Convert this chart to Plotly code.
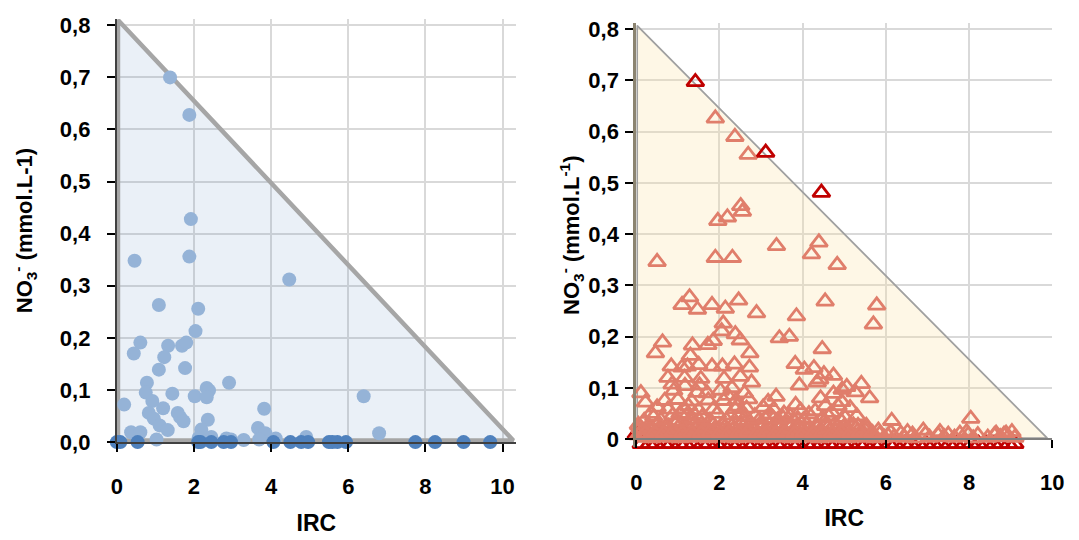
import plotly.graph_objects as go

# ---------------- data ----------------
# Left panel (circles)
left_x = [1.38, 1.88, 1.92, 1.88, 0.46, 4.47, 1.09, 2.11, 2.04, 0.61, 0.44, 1.33, 1.69, 1.80,
          1.23, 1.09, 1.77, 0.78, 2.91, 2.33, 2.39, 0.75, 1.44, 2.02, 2.33, 6.40, 0.92, 0.19,
          1.20, 3.82, 0.83, 1.58, 1.64, 1.73, 0.96, 2.36, 1.11, 1.32, 0.37, 0.61, 3.66, 2.19,
          3.85, 6.80, 4.91, 2.45, 4.12, 2.84, 2.96, 3.29, 3.69, 1.03, 2.12]
left_y = [0.700, 0.628, 0.428, 0.356, 0.348, 0.312, 0.263, 0.256, 0.213, 0.191, 0.170, 0.185, 0.185, 0.191,
          0.163, 0.139, 0.142, 0.114, 0.114, 0.104, 0.099, 0.095, 0.093, 0.088, 0.086, 0.088, 0.079, 0.072,
          0.065, 0.064, 0.056, 0.056, 0.048, 0.040, 0.045, 0.043, 0.032, 0.023, 0.019, 0.019, 0.027, 0.024,
          0.017, 0.017, 0.010, 0.010, 0.007, 0.007, 0.005, 0.004, 0.005, 0.005, 0.008]
left_zero_x = [0.0, 0.09, 0.54, 2.11, 2.17, 2.45, 2.77, 2.96, 4.06, 4.50, 4.78, 4.96, 5.50, 5.59,
               5.72, 5.94, 7.74, 8.25, 8.99, 9.68]
left_zero_y = [0.0] * len(left_zero_x)

# Right panel (triangles) - upper points
r_up_x = [1.90, 2.37, 2.69, 2.51, 2.55, 1.96, 2.19, 3.37, 4.39, 4.21, 0.50, 1.90, 2.31, 4.83,
          1.28, 1.10, 1.47, 1.82, 2.14, 2.46, 2.89, 4.54, 5.78, 3.85, 5.70, 2.09, 2.05, 2.38,
          2.50, 3.44, 3.68, 0.63, 0.46, 1.35, 1.72, 1.85, 2.73, 4.47, 1.30,
          0.84, 1.10, 1.23, 1.50, 1.82, 2.07, 2.36, 2.72, 3.82, 4.04, 4.27, 4.51, 4.74, 4.41,
          0.76, 1.16, 1.55, 2.11, 2.50, 2.77, 0.86, 1.17, 1.52, 3.92, 4.35, 5.06, 5.41, 4.95]
r_up_y = [0.626, 0.590, 0.555, 0.455, 0.444, 0.426, 0.433, 0.377, 0.384, 0.361, 0.346, 0.354, 0.354, 0.340,
          0.277, 0.262, 0.253, 0.262, 0.255, 0.271, 0.246, 0.269, 0.261, 0.240, 0.224, 0.226, 0.211, 0.205,
          0.193, 0.197, 0.200, 0.189, 0.168, 0.183, 0.184, 0.192, 0.168, 0.176, 0.163,
          0.142, 0.140, 0.142, 0.145, 0.142, 0.142, 0.146, 0.140, 0.147, 0.136, 0.139, 0.127, 0.124, 0.117,
          0.120, 0.120, 0.118, 0.118, 0.122, 0.111, 0.107, 0.104, 0.105, 0.105, 0.111, 0.102, 0.108, 0.097]

# Right panel - middle points
r_mid_x = [0.11, 0.22, 5.26, 5.61, 3.36, 3.17, 3.83, 4.43, 4.74, 4.94, 5.14, 1.46, 0.68, 1.00,
           1.33, 1.73, 2.10, 2.40, 2.70, 0.76, 1.16, 1.50, 1.85, 2.37, 2.65, 3.05, 3.30, 0.19,
           0.59, 0.98, 1.37, 1.77, 2.17, 2.56, 2.96, 3.30, 3.21, 3.52, 4.15, 4.62, 5.02, 6.14,
           8.04, 0.35, 0.50, 0.90, 1.05, 1.25, 1.40, 1.70, 1.95, 2.02, 2.20, 2.30, 2.50, 2.60,
           2.85, 3.10, 3.55, 3.70, 3.95, 4.30, 4.55, 4.70, 4.85, 5.30,
           0.42, 0.88, 1.21, 1.58, 2.26, 2.44, 2.63, 3.41, 3.88, 4.02, 4.48, 4.92]
r_mid_y = [0.090, 0.072, 0.092, 0.080, 0.083, 0.073, 0.067, 0.080, 0.089, 0.073, 0.061, 0.091, 0.075, 0.077,
           0.074, 0.076, 0.075, 0.076, 0.078, 0.058, 0.059, 0.057, 0.058, 0.059, 0.060, 0.062, 0.058, 0.036,
           0.037, 0.035, 0.038, 0.036, 0.037, 0.036, 0.038, 0.040, 0.049, 0.042, 0.049, 0.045, 0.042, 0.036,
           0.040, 0.050, 0.062, 0.095, 0.050, 0.065, 0.048, 0.090, 0.050, 0.095, 0.085, 0.100, 0.050, 0.090,
           0.045, 0.040, 0.050, 0.045, 0.056, 0.055, 0.065, 0.052, 0.065, 0.045,
           0.044, 0.047, 0.046, 0.043, 0.047, 0.064, 0.044, 0.038, 0.040, 0.037, 0.041, 0.036]

# Right panel - dense low band
r_low_x = [0.05, 0.28, 0.50, 0.72, 0.95, 1.18, 1.40, 1.62, 1.85, 2.08, 2.30, 2.52, 2.75, 2.98,
           3.20, 3.42, 3.65, 3.88, 4.10, 4.32, 4.55, 4.78, 5.00, 5.22, 5.33, 5.53,
           0.15, 0.38, 0.60, 0.82, 1.05, 1.28, 1.50, 1.72, 1.95, 2.18, 2.40, 2.62, 2.85, 3.08,
           3.30, 3.52, 3.75, 3.98, 4.20, 4.42, 4.65, 4.88, 5.10, 5.32, 5.55, 5.82, 6.12,
           0.05, 0.27, 0.49, 0.71, 0.93, 1.16, 1.38, 1.60, 1.83, 2.05, 2.27, 2.50, 2.72, 2.94,
           3.17, 3.39, 3.61, 3.84, 4.06, 4.28, 4.51, 4.73, 4.95, 5.18, 5.40, 5.62, 5.85, 6.05,
           6.36, 6.52, 6.64, 6.90, 6.95, 7.26, 7.30, 7.50, 7.78, 7.94, 7.98, 8.21, 8.61, 8.65,
           8.84, 8.89, 9.03,
           0.16, 0.38, 0.60, 0.82, 1.05, 1.27, 1.49, 1.72, 1.94, 2.16, 2.38, 2.61, 2.83, 3.05,
           3.28, 3.50, 3.72, 3.95, 4.17, 4.39, 4.62, 4.84, 5.06, 5.29, 5.51, 5.73, 5.96, 6.20,
           6.45, 6.70, 7.05, 7.40, 7.65, 8.10, 8.45, 8.75, 9.10,
           0.09, 0.33, 0.55, 0.77, 1.00, 1.22, 1.45, 1.67, 1.90, 2.12, 2.35, 2.57, 2.80, 3.02,
           3.25, 3.47, 3.70, 3.92, 4.15, 4.37, 4.60, 4.83, 5.05, 5.27, 5.47,
           0.21, 0.44, 0.66, 0.88, 1.11, 1.33, 1.56, 1.78, 2.01, 2.23, 2.46, 2.68, 2.91, 3.13,
           3.36, 3.58, 3.81, 4.03, 4.26, 4.48, 4.71, 4.93, 5.15, 5.38, 5.68]
r_low_y = [0.028, 0.025, 0.029, 0.026, 0.030, 0.027, 0.029, 0.025, 0.028, 0.030, 0.026, 0.029, 0.027, 0.030,
           0.028, 0.025, 0.030, 0.027, 0.029, 0.026, 0.028, 0.030, 0.025, 0.027, 0.026, 0.026,
           0.018, 0.016, 0.019, 0.017, 0.015, 0.018, 0.017, 0.019, 0.016, 0.018, 0.015, 0.017, 0.019, 0.016,
           0.018, 0.017, 0.015, 0.019, 0.016, 0.018, 0.017, 0.015, 0.018, 0.016, 0.020, 0.017, 0.013,
           0.008, 0.010, 0.007, 0.009, 0.011, 0.008, 0.010, 0.007, 0.009, 0.011, 0.008, 0.010, 0.007, 0.009,
           0.011, 0.008, 0.010, 0.007, 0.009, 0.011, 0.008, 0.010, 0.007, 0.009, 0.011, 0.008, 0.010, 0.007,
           0.011, 0.014, 0.009, 0.017, 0.010, 0.008, 0.014, 0.009, 0.011, 0.014, 0.009, 0.008, 0.008, 0.011,
           0.009, 0.011, 0.014,
           0.003, 0.002, 0.004, 0.003, 0.002, 0.003, 0.004, 0.002, 0.003, 0.004, 0.002, 0.003, 0.004, 0.002,
           0.003, 0.004, 0.002, 0.003, 0.004, 0.002, 0.003, 0.004, 0.002, 0.003, 0.004, 0.002, 0.003, 0.004,
           0.003, 0.002, 0.003, 0.004, 0.003, 0.002, 0.003, 0.004, 0.003,
           0.022, 0.023, 0.021, 0.024, 0.022, 0.023, 0.021, 0.024, 0.022, 0.023, 0.021, 0.024, 0.022, 0.023,
           0.021, 0.024, 0.022, 0.023, 0.021, 0.024, 0.022, 0.023, 0.021, 0.022, 0.021,
           0.012, 0.013, 0.012, 0.014, 0.012, 0.013, 0.012, 0.014, 0.012, 0.013, 0.012, 0.014, 0.012, 0.013,
           0.012, 0.014, 0.012, 0.013, 0.012, 0.014, 0.012, 0.013, 0.012, 0.013, 0.012]

# Right panel - dark red series: points above the envelope, and points along the bottom
r_dark_top_x = [1.42, 3.11, 4.45]
r_dark_top_y = [0.697, 0.559, 0.481]
r_dark_low_x = [0.0, 0.12, 0.31, 0.47, 0.68, 0.83, 1.04, 1.19, 1.37, 1.58, 1.73,
                1.94, 2.09, 2.29, 2.45, 2.66, 2.81, 3.02, 3.17, 3.38, 3.53, 3.74, 3.89, 4.10, 4.26,
                4.44, 4.63, 4.79, 4.99, 5.15, 5.36, 5.51, 5.72, 5.87, 6.08, 6.23, 6.44, 6.60, 6.79,
                6.97, 7.15, 7.33, 7.52, 7.69, 7.88, 8.05, 8.23, 8.41, 8.60, 8.77, 8.95, 9.10]
r_dark_low_y = [0.010] + [-0.009] * 51

# Envelope triangles (reference lines)
left_tri_x = [0.03, 0.03, 10.28, 0.03]
left_tri_y = [0.003, 0.810, 0.003, 0.003]
right_tri_x = [0.02, 0.02, 9.88, 0.02]
right_tri_y = [0.002, 0.807, 0.002, 0.002]

y_tickvals = [0, 0.1, 0.2, 0.3, 0.4, 0.5, 0.6, 0.7, 0.8]
left_y_ticktext = ["0,0", "0,1", "0,2", "0,3", "0,4", "0,5", "0,6", "0,7", "0,8"]
right_y_ticktext = ["0", "0,1", "0,2", "0,3", "0,4", "0,5", "0,6", "0,7", "0,8"]
x_tickvals = [0, 2, 4, 6, 8, 10]
x_ticktext = ["0", "2", "4", "6", "8", "10"]

# ---------------- figure ----------------
FONT = "Liberation Sans, Arial, sans-serif"
DARK_RED = "#C00000"
SALMON = "#E07E6B"
fig = go.Figure()

fig.add_trace(go.Scatter(x=left_tri_x, y=left_tri_y, mode="lines", fill="toself",
                         fillcolor="rgba(79,129,189,0.12)",
                         line=dict(color="#A6A6A6", width=4.5),
                         xaxis="x", yaxis="y", hoverinfo="skip", showlegend=False))
fig.add_trace(go.Scatter(x=left_x, y=left_y, mode="markers",
                         marker=dict(symbol="circle", size=14, color="#95B3D7"),
                         cliponaxis=False, xaxis="x", yaxis="y", showlegend=False))
fig.add_trace(go.Scatter(x=left_zero_x, y=left_zero_y, mode="markers",
                         marker=dict(symbol="circle", size=14, color="#4F81BD"),
                         cliponaxis=False, xaxis="x", yaxis="y", showlegend=False))

fig.add_trace(go.Scatter(x=right_tri_x, y=right_tri_y, mode="lines", fill="toself",
                         fillcolor="rgba(252,226,165,0.28)",
                         line=dict(color="#A0A0A0", width=1.8),
                         xaxis="x2", yaxis="y2", hoverinfo="skip", showlegend=False))
fig.add_trace(go.Scatter(x=r_dark_low_x, y=r_dark_low_y, mode="markers",
                         marker=dict(symbol="triangle-up-open", size=15, color=DARK_RED,
                                     line=dict(width=2.8, color=DARK_RED)),
                         cliponaxis=False, xaxis="x2", yaxis="y2", showlegend=False))
fig.add_trace(go.Scatter(x=r_low_x + r_mid_x + r_up_x, y=r_low_y + r_mid_y + r_up_y, mode="markers",
                         marker=dict(symbol="triangle-up-open", size=15, color=SALMON,
                                     line=dict(width=2.8, color=SALMON)),
                         cliponaxis=False, xaxis="x2", yaxis="y2", showlegend=False))
fig.add_trace(go.Scatter(x=r_dark_top_x, y=r_dark_top_y, mode="markers",
                         marker=dict(symbol="triangle-up-open", size=15, color=DARK_RED,
                                     line=dict(width=2.8, color=DARK_RED)),
                         cliponaxis=False, xaxis="x2", yaxis="y2", showlegend=False))

tickfont = dict(family=FONT, size=22, color="black", weight="bold")
titlefont = dict(family=FONT, size=23, color="black", weight="bold")
ytitlefont = dict(family=FONT, size=22, color="black", weight="bold")

common_x = dict(tickvals=x_tickvals, ticktext=x_ticktext, showgrid=True, gridcolor="#D9D9D9",
                gridwidth=1.5, zeroline=False, ticks="outside", ticklen=8, tickwidth=1.5,
                tickcolor="black", tickfont=tickfont, showline=True, layer="above traces")
common_y = dict(tickvals=y_tickvals, showgrid=True, gridcolor="#D9D9D9", gridwidth=1.5,
                zeroline=False, ticks="outside", ticklen=8, tickwidth=1.5, tickcolor="black",
                tickfont=tickfont, showline=True, layer="above traces")

# right panel: y=0 sits at pixel 449 (paper 0.16852); range extends slightly below zero
R_Y0 = 0.16852
fig.update_layout(
    width=1079, height=540, margin=dict(l=0, r=0, t=0, b=0),
    paper_bgcolor="white", plot_bgcolor="white", showlegend=False,
    xaxis=dict(domain=[0.10445, 0.48072], range=[0, 10.35], anchor="y",
               linecolor="#404040", linewidth=2, ticklabelstandoff=16,
               title=dict(text="IRC", font=titlefont, standoff=16), **common_x),
    yaxis=dict(domain=[0.16296, 0.975], range=[0, 0.812], anchor="x",
               ticktext=left_y_ticktext, linecolor="#404040", linewidth=2, ticklabelstandoff=12,
               title=dict(text="NO<sub>3</sub><sup>-</sup> (mmol.L-1)", font=ytitlefont, standoff=21),
               **common_y),
    xaxis2=dict(domain=[0.59407, 0.98610], range=[0, 10], anchor="free", position=R_Y0,
                linecolor="#7F7F7F", linewidth=2, ticklabelstandoff=15,
                title=dict(text="IRC", font=titlefont, standoff=15), **common_x),
    yaxis2=dict(domain=[0.15278, 0.96741], range=[-0.016, 0.812], anchor="x2",
                ticktext=right_y_ticktext, linecolor="#8C8470", linewidth=3, ticklabelstandoff=2,
                title=dict(text="NO<sub>3</sub><sup>-</sup> (mmol.L<sup>-1</sup>)", font=ytitlefont, standoff=3),
                **common_y),
)

fig.write_html("out.html")
